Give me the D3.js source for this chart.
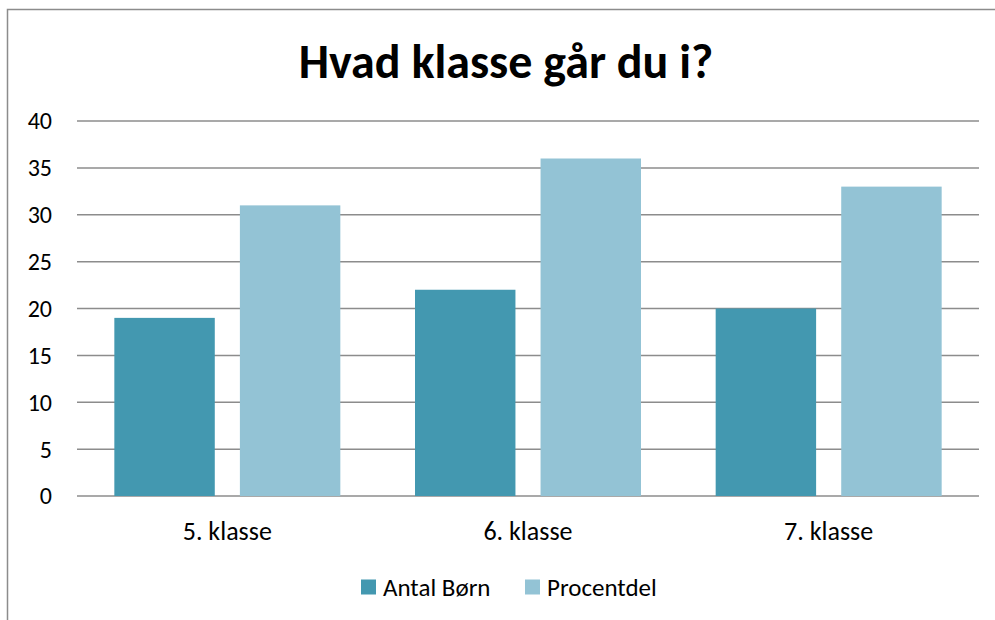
<!DOCTYPE html>
<html>
<head>
<meta charset="utf-8">
<script src="https://cdn.jsdelivr.net/npm/d3@7"></script>
<style>
  body { margin: 0; background: #fff; }
  text { font-family: Calibri, Carlito, "Open Sans", "Noto Sans", sans-serif; fill: #000; }
</style>
</head>
<body>
<div id="chart"></div>
<script>
// data
var categories = ["5. klasse", "6. klasse", "7. klasse"];
var seriesNames = ["Antal Børn", "Procentdel"];
var antalBorn = [19, 22, 20];
var procentdel = [31, 36, 33];
var yTicks = [0, 5, 10, 15, 20, 25, 30, 35, 40];

var colors = ["#4398B0", "#93C3D5"];

var width = 995, height = 620;
var margin = {top: 121, right: 16, bottom: 124, left: 77};

var svg = d3.select("#chart")
  .append("svg")
    .attr("width", width)
    .attr("height", height);

// chart frame (cut off on right and bottom)
svg.append("rect")
  .attr("x", 7.5)
  .attr("y", 9.5)
  .attr("width", width + 20)
  .attr("height", height + 20)
  .attr("fill", "none")
  .attr("stroke", "#8c8c8c")
  .attr("stroke-width", 1.5);

svg.append("text")
  .attr("x", 506)
  .attr("y", 78)
  .attr("text-anchor", "middle")
  .style("font-size", "48px")
  .style("font-weight", "bold")
  .text("Hvad klasse går du i?");

var x0 = d3.scaleBand()
  .domain(categories)
  .range([margin.left, width - margin.right]);

var x1 = d3.scaleBand()
  .domain(seriesNames)
  .range([0, 226])
  .paddingInner(0.2);

var y = d3.scaleLinear()
  .domain([0, 40])
  .range([height - margin.bottom, margin.top]);

// gridlines
svg.append("g")
  .selectAll("line")
  .data(yTicks)
  .enter()
  .append("line")
    .attr("x1", margin.left)
    .attr("x2", width - margin.right)
    .attr("y1", d => y(d))
    .attr("y2", d => y(d))
    .attr("stroke", "#8c8c8c")
    .attr("stroke-width", 1.5);

// y tick labels
svg.append("g")
  .selectAll("text")
  .data(yTicks)
  .enter()
  .append("text")
    .attr("x", 52)
    .attr("y", d => y(d))
    .attr("dy", "0.35em")
    .attr("text-anchor", "end")
    .style("font-size", "24px")
    .text(d => d);

// bars
var rows = categories.map((c, i) => ({cat: c, vals: [antalBorn[i], procentdel[i]]}));

var group = svg.append("g")
  .selectAll("g")
  .data(rows)
  .enter()
  .append("g")
    .attr("transform", d => "translate(" + (x0(d.cat) + x0.bandwidth() / 2 - 113) + ",0)");

group.selectAll("rect")
  .data(d => d.vals.map((v, j) => ({name: seriesNames[j], v: v, j: j})))
  .enter()
  .append("rect")
    .attr("x", d => x1(d.name))
    .attr("width", x1.bandwidth())
    .attr("y", d => y(d.v))
    .attr("height", d => y(0) - y(d.v))
    .attr("fill", d => colors[d.j]);

// x labels
svg.append("g")
  .selectAll("text")
  .data(categories)
  .enter()
  .append("text")
    .attr("x", d => x0(d) + x0.bandwidth() / 2)
    .attr("y", 531)
    .attr("dy", "0.35em")
    .attr("text-anchor", "middle")
    .style("font-size", "26px")
    .text(d => d);

// legend
var legendX = [361, 525];
var legend = svg.append("g")
  .selectAll("g")
  .data(seriesNames)
  .enter()
  .append("g")
    .attr("transform", (d, i) => "translate(" + legendX[i] + ",587)");

legend.append("rect")
  .attr("x", 0)
  .attr("y", -7.5)
  .attr("width", 15)
  .attr("height", 15)
  .attr("fill", (d, i) => colors[i]);

legend.append("text")
  .attr("x", 22)
  .attr("y", 0)
  .attr("dy", "0.35em")
  .style("font-size", "25px")
  .text(d => d);
</script>
</body>
</html>
